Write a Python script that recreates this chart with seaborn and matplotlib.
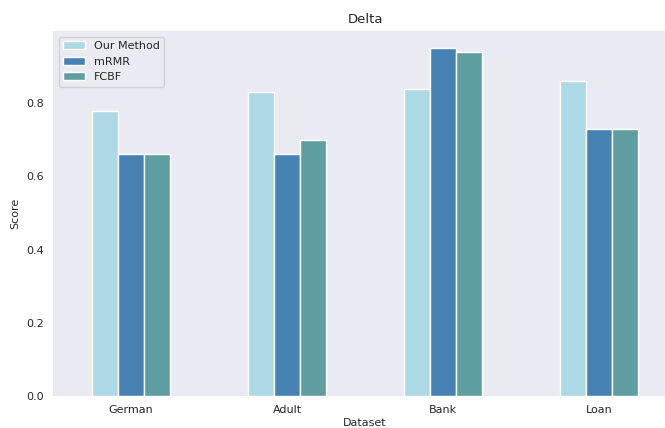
import matplotlib
matplotlib.use("Agg")
import matplotlib.pyplot as plt
import seaborn as sns
import pandas as pd

datasets = ["German", "Adult", "Bank", "Loan"]
methods = ["Our Method", "mRMR", "FCBF"]
our_method = [0.78, 0.83, 0.84, 0.86]
mrmr = [0.66, 0.66, 0.95, 0.73]
fcbf = [0.66, 0.70, 0.94, 0.73]
colors = ["lightblue", "steelblue", "cadetblue"]

rows = []
for m, vals in zip(methods, [our_method, mrmr, fcbf]):
    for d, v in zip(datasets, vals):
        rows.append({"Dataset": d, "Method": m, "Score": v})
df = pd.DataFrame(rows)

sns.set_style("dark")
fig = plt.figure(figsize=(6.65, 4.28), dpi=100)
ax = fig.add_axes([53 / 665, 32 / 428, 624 / 665, 365 / 428])

sns.barplot(data=df, x="Dataset", y="Score", hue="Method", palette=colors,
            saturation=1, width=0.5, gap=0, edgecolor="white", linewidth=1,
            ax=ax)

ax.set_xlim(-0.5, 3.5)
ax.set_ylim(0, 0.9975)
ax.set_yticks([0.0, 0.2, 0.4, 0.6, 0.8])
ax.set_title("Delta", fontsize=9.5, color=".15")
ax.set_xlabel("Dataset", fontsize=8, color=".15", labelpad=2)
ax.set_ylabel("Score", fontsize=8, color=".15")
ax.tick_params(axis="both", labelsize=8, colors=".15", pad=3)
for s in ax.spines.values():
    s.set_visible(False)

leg = ax.legend(loc="upper left", fontsize=8, frameon=True, title=None,
                borderpad=0.4, handlelength=2.0)
leg.get_frame().set_facecolor("#EAEAF2")
leg.get_frame().set_edgecolor("#cccccc")

fig.savefig("out.png", dpi=100)
